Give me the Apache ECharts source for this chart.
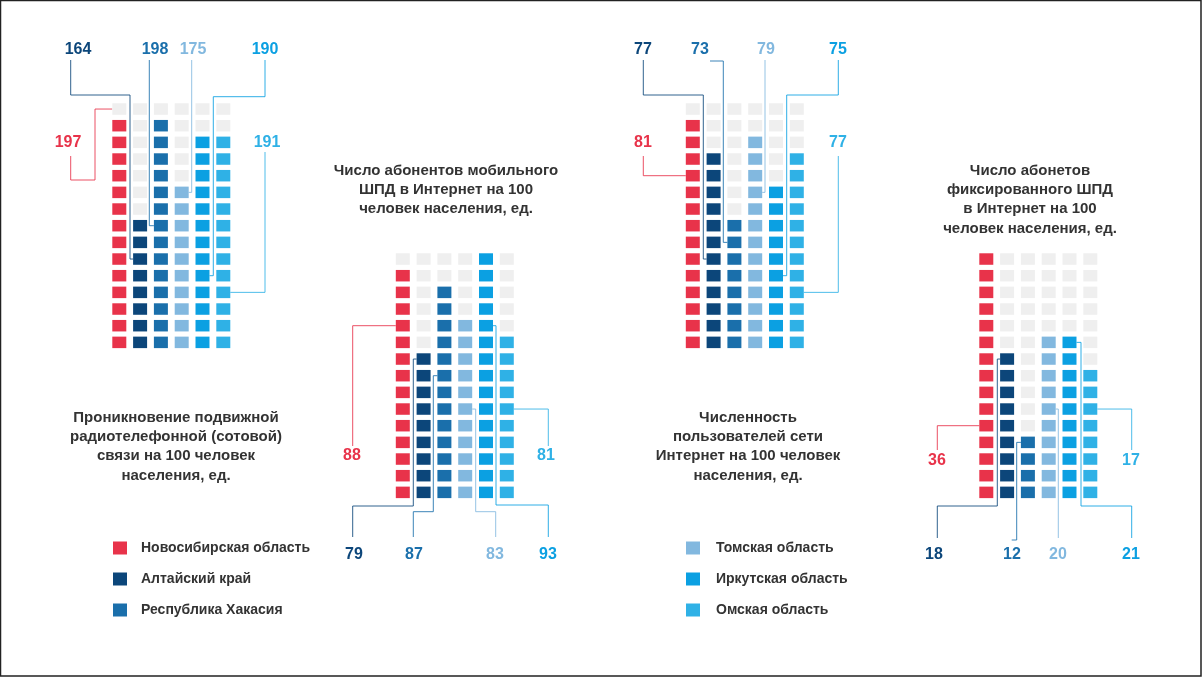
<!DOCTYPE html>
<html><head><meta charset="utf-8">
<script src="https://cdn.jsdelivr.net/npm/echarts@6/dist/echarts.min.js"></script>
<style>html,body{margin:0;padding:0;background:#fff}#c{width:1202px;height:677px}</style>
</head><body><div id="c"></div><script>
// ---------- DATA ----------
const regions = ['Новосибирская область','Алтайский край','Республика Хакасия','Томская область','Иркутская область','Омская область'];
const regionColors = ['#e8334a','#0c467a','#1a6fab','#82b8df','#0ba0e2','#2fb1e6'];
const emptyColor = '#efefef';
const rowsPerColumn = 15;

const mobileTitle = 'Проникновение подвижной\nрадиотелефонной (сотовой)\nсвязи на 100 человек\nнаселения, ед.';
const mobileValues = [197,164,198,175,190,191];
const mobileCells  = [14,8,14,10,13,13];

const mbbTitle = 'Число абонентов мобильного\nШПД в Интернет на 100\nчеловек населения, ед.';
const mbbValues = [88,79,87,83,93,81];
const mbbCells  = [14,9,13,11,15,10];

const usersTitle = 'Численность\nпользователей сети\nИнтернет на 100 человек\nнаселения, ед.';
const usersValues = [81,77,73,79,75,77];
const usersCells  = [14,12,8,13,10,12];

const fbbTitle = 'Число абонетов\nфиксированного ШПД\nв Интернет на 100\nчеловек населения, ед.';
const fbbValues = [36,18,12,20,21,17];
const fbbCells  = [15,9,4,10,10,8];

const panels = [
  {title: mobileTitle, values: mobileValues, cells: mobileCells},
  {title: mbbTitle, values: mbbValues, cells: mbbCells},
  {title: usersTitle, values: usersValues, cells: usersCells},
  {title: fbbTitle, values: fbbValues, cells: fbbCells}
];

// ---------- LAYOUT ----------
const gridPos = [
  {left: 108.9, top: 100.7}, {left: 392.4, top: 250.7},
  {left: 682.4, top: 100.7}, {left: 975.9, top: 250.7}
];
const gridW = 124.8, gridH = 250;
const cellW = 14, cellH = 11.5;
const titlePos = [[176, 408], [446, 161], [748, 408], [1030, 161]];

// leader lines: panel, column, row(0 = top), side, label position, fixed bend points
const leaders = [
  {p:0,c:0,r:0, s:'L', lab:[68,143], pts:[[70.7,156],[70.7,180],[95,180]]},
  {p:0,c:1,r:9, s:'L', lab:[78,50],  pts:[[70.7,60],[70.7,95],[130,95]]},
  {p:0,c:2,r:7, s:'L', lab:[155,50], pts:[[149.3,60]]},
  {p:0,c:3,r:5, s:'R', lab:[193,50], pts:[[191.7,60]]},
  {p:0,c:4,r:10,s:'R', lab:[265,50], pts:[[265,60],[265,96.7],[213.3,96.7]]},
  {p:0,c:5,r:11,s:'R', lab:[267,143],pts:[[265,152]]},

  {p:1,c:0,r:4, s:'L', lab:[352,456],pts:[[352.7,446]]},
  {p:1,c:1,r:6, s:'L', lab:[354,555],pts:[[352.7,537],[352.7,506],[413.3,506]]},
  {p:1,c:2,r:7, s:'L', lab:[414,555],pts:[[413.3,537],[413.3,511.7],[433.3,511.7]]},
  {p:1,c:3,r:9, s:'R', lab:[495,555],pts:[[495.7,537],[495.7,511.7],[475.7,511.7]]},
  {p:1,c:4,r:4, s:'R', lab:[548,555],pts:[[548.3,537],[548.3,505],[496,505]]},
  {p:1,c:5,r:9, s:'R', lab:[546,456],pts:[[548.3,446]]},

  {p:2,c:0,r:4, s:'L', lab:[643,143],pts:[[643.3,156]]},
  {p:2,c:1,r:9, s:'L', lab:[643,50], pts:[[643.3,60],[643.3,95],[703.3,95]]},
  {p:2,c:2,r:8, s:'L', lab:[700,50], pts:[[710,61],[723.3,61]]},
  {p:2,c:3,r:5, s:'R', lab:[766,50], pts:[[765,60]]},
  {p:2,c:4,r:10,s:'R', lab:[838,50], pts:[[838.3,60],[838.3,95],[786.7,95]]},
  {p:2,c:5,r:11,s:'R', lab:[838,143],pts:[[838.3,156]]},

  {p:3,c:0,r:10,s:'L', lab:[937,461],pts:[[937.3,450]]},
  {p:3,c:1,r:6, s:'L', lab:[934,555],pts:[[937.3,538],[937.3,506],[997.3,506]]},
  {p:3,c:2,r:11,s:'L', lab:[1012,555],pts:[[1011.7,540],[1016.7,540]]},
  {p:3,c:3,r:9, s:'R', lab:[1058,555],pts:[[1058.3,538]]},
  {p:3,c:4,r:5, s:'R', lab:[1131,555],pts:[[1131.7,538],[1131.7,506],[1081,506]]},
  {p:3,c:5,r:9, s:'R', lab:[1131,461],pts:[[1131.7,450]]}
];

const FONT = '"Liberation Sans", Arial, Helvetica, sans-serif';

const chart = echarts.init(document.getElementById('c'), null, {renderer: 'canvas'});

const grids = [], xAxes = [], yAxes = [], series = [];
panels.forEach((pn, i) => {
  grids.push({left: gridPos[i].left, top: gridPos[i].top, width: gridW, height: gridH});
  xAxes.push({type: 'category', gridIndex: i, data: regions, show: false, boundaryGap: true});
  yAxes.push({type: 'value', gridIndex: i, min: -0.5, max: rowsPerColumn - 0.5, inverse: true, show: false});
  const data = [];
  pn.cells.forEach((n, col) => {
    for (let r = 0; r < rowsPerColumn; r++) data.push([col, r, r >= rowsPerColumn - n ? 1 : 0]);
  });
  series.push({
    type: 'custom', xAxisIndex: i, yAxisIndex: i, data: data, silent: true, animation: false,
    renderItem: function (params, api) {
      const col = api.value(0), row = api.value(1), filled = api.value(2);
      const p = api.coord([col, row]);
      return {type: 'rect', shape: {x: p[0] - cellW / 2, y: p[1] - cellH / 2, width: cellW, height: cellH},
        style: {fill: filled ? regionColors[col] : emptyColor}};
    }
  });
});

chart.setOption({animation: false, grid: grids, xAxis: xAxes, yAxis: yAxes, series: series});

const g = [];
g.push({type: 'rect', shape: {x: 0.5, y: 0.5, width: 1200.5, height: 675.5}, style: {fill: 'none', stroke: '#222', lineWidth: 1.5}, silent: true});

panels.forEach((pn, i) => {
  g.push({type: 'text', x: titlePos[i][0], y: titlePos[i][1], silent: true,
    style: {text: pn.title, font: 'bold 15px ' + FONT, fill: '#333', lineHeight: 19.3,
      align: 'center', textAlign: 'center', verticalAlign: 'top', textVerticalAlign: 'top'}});
});

leaders.forEach(L => {
  const c = chart.convertToPixel({gridIndex: L.p}, [L.c, L.r]);
  const edge = L.s === 'L' ? c[0] - cellW / 2 : c[0] + cellW / 2;
  const last = L.pts[L.pts.length - 1];
  const pts = L.pts.concat([[last[0], c[1]], [edge, c[1]]]);
  g.push({type: 'polyline', silent: true, shape: {points: pts},
    style: {stroke: regionColors[L.c], lineWidth: 1, fill: 'none', opacity: 0.85}});
  g.push({type: 'text', x: L.lab[0], y: L.lab[1], silent: true,
    style: {text: String(panels[L.p].values[L.c]), font: 'bold 16px ' + FONT, fill: regionColors[L.c],
      align: 'center', textAlign: 'center', verticalAlign: 'middle', textVerticalAlign: 'middle'}});
});

// legend
regions.forEach((name, k) => {
  const left = k < 3;
  const sx = left ? 113 : 686, tx = left ? 141 : 716;
  const cy = 548 + (k % 3) * 31;
  g.push({type: 'rect', silent: true, shape: {x: sx, y: cy - 6.5, width: 14, height: 13}, style: {fill: regionColors[k]}});
  g.push({type: 'text', x: tx, y: cy, silent: true,
    style: {text: name, font: 'bold 14px ' + FONT, fill: '#333',
      align: 'left', textAlign: 'left', verticalAlign: 'middle', textVerticalAlign: 'middle'}});
});

chart.setOption({graphic: {elements: g}});
</script></body></html>
